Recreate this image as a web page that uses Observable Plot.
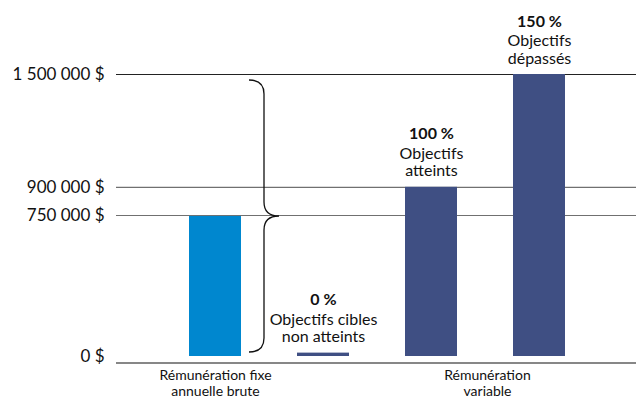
<!DOCTYPE html>
<html><head><meta charset="utf-8">
<script src="https://cdn.jsdelivr.net/npm/d3@7"></script>
<script src="https://cdn.jsdelivr.net/npm/@observablehq/plot@0.6"></script>
<style>body{margin:0;background:#fff} svg{display:block}</style>
</head><body><div id="chart"></div>
<script>
const categories = ["fixe", "0", "100", "150"];
const values = [745000, 18000, 900000, 1500000];
const groups = ["fixe", "variable", "variable", "variable"];
const pctLabels = ["", "0 %", "100 %", "150 %"];
const noteLabels = ["", "Objectifs cibles\nnon atteints", "Objectifs\natteints", "Objectifs\ndépassés"];
const tickValues = [0, 750000, 900000, 1500000];
const tickLabels = ["0 $", "750 000 $", "900 000 $", "1 500 000 $"];
const axisLabels = ["Rémunération fixe\nannuelle brute", "Rémunération\nvariable"];
const braceRange = [0, 1500000];
const colors = {fixe: "#0087cf", variable: "#3f4f83"};

const data = categories.map((c, i) => ({cat: c, value: values[i], group: groups[i], pct: pctLabels[i], note: noteLabels[i]}));
const annotated = data.filter(d => d.note);

function brace(index, scales) {
  const x = scales.x, y = scales.y;
  const bw = typeof x.bandwidth === "function" ? x.bandwidth() : 53;
  const xL = x(categories[0]) + bw + 8;
  const xV = xL + 15, xT = xV + 15;
  const yTop = y(braceRange[1]) + 6, yBot = y(braceRange[0]) - 4;
  const yMid = (yTop + yBot) / 2, r = 14;
  const d = `M${xL},${yTop} Q${xV},${yTop} ${xV},${yTop + r} L${xV},${yMid - r} Q${xV},${yMid} ${xT},${yMid} Q${xV},${yMid} ${xV},${yMid + r} L${xV},${yBot - r} Q${xV},${yBot} ${xL},${yBot}`;
  return d3.create("svg:path").attr("d", d).attr("fill", "none").attr("stroke", "#111").attr("stroke-width", 1.3).node();
}

const chart = Plot.plot({
  width: 636,
  height: 399,
  marginLeft: 116,
  marginRight: 0,
  marginTop: 0,
  marginBottom: 37,
  style: {fontFamily: "Lato, 'Noto Sans', sans-serif", fontSize: "14px", color: "#111", background: "#fff"},
  x: {domain: categories, range: [188, 567], paddingInner: 0.517, paddingOuter: 0, axis: null},
  y: {domain: [0, 1500000], range: [356, 74], axis: null},
  marks: [
    Plot.ruleY(tickValues.slice(1), {stroke: d => d === tickValues[tickValues.length - 1] ? "#222" : "#707070", strokeWidth: 1.2}),
    Plot.ruleY([tickValues[0]], {dy: 6.5, stroke: "#111", strokeWidth: 1.2}),
    Plot.barY(data, {x: "cat", y: "value", fill: d => colors[d.group]}),
    Plot.text(tickValues, {y: d => d, frameAnchor: "left", dx: -12, textAnchor: "end", text: (d, i) => tickLabels[i], fontSize: 17, fill: "#111"}),
    Plot.text(annotated, {x: "cat", y: "value", text: "note", lineAnchor: "bottom", dy: -11, lineHeight: 1.1, fontSize: 16, fill: "#111"}),
    Plot.text(annotated, {x: "cat", y: "value", text: "pct", lineAnchor: "bottom", dy: -48, fontSize: 16, fontWeight: "bold", fill: "#111"}),
    Plot.text([{cat: categories[0], label: axisLabels[0]}], {x: "cat", text: "label", frameAnchor: "bottom", lineAnchor: "top", dy: 7, lineHeight: 1.1, fontSize: 14, fill: "#111"}),
    Plot.text([{cat: categories[2], label: axisLabels[1]}], {x: "cat", text: "label", frameAnchor: "bottom", lineAnchor: "top", dy: 7, dx: 56, lineHeight: 1.1, fontSize: 14, fill: "#111"}),
    brace
  ]
});
document.getElementById("chart").append(chart);
</script>
</body></html>
